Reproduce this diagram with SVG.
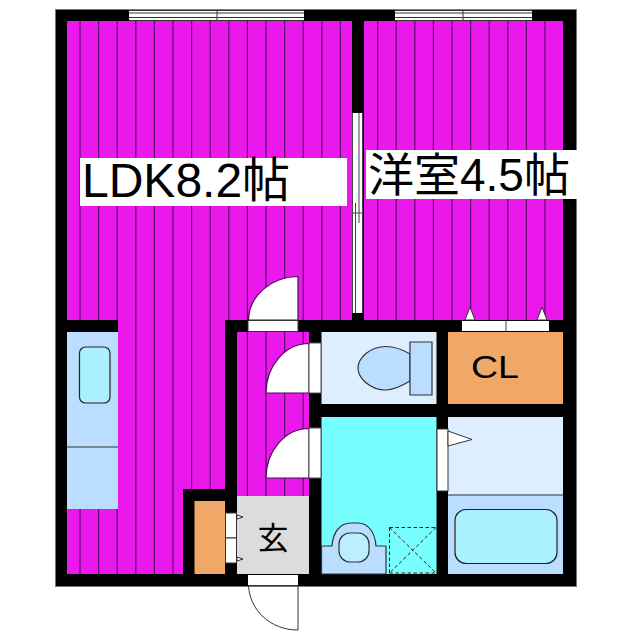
<svg xmlns="http://www.w3.org/2000/svg" width="640" height="640" viewBox="0 0 640 640">
<style>
.door{fill:#fff;stroke:#333;stroke-width:1}
.arc{fill:#fff;stroke:#4a0a5a;stroke-width:1.2}
.fix{stroke:#333;stroke-width:1.2;stroke-linejoin:round}
.t{font-family:"Liberation Sans","Noto Sans CJK JP",sans-serif;fill:#000}
.jp{font-family:"Noto Sans CJK JP",sans-serif;fill:#000}
</style>
<defs>
<clipPath id="floor"><path d="M67 21H352V320H225V489H183V574H67V509H118V320H67ZM364 21H563V320H364ZM237 332H309V496H237Z"/></clipPath>
</defs>
<rect width="640" height="640" fill="#fff"/>
<rect x="55.5" y="9.5" width="521" height="577" fill="#000" stroke="#777" stroke-width="1"/>
<path d="M67 21H352V320H225V489H183V574H67V509H118V320H67ZM364 21H563V320H364ZM237 332H309V496H237Z" fill="#ea18ea"/>
<g clip-path="url(#floor)" stroke="#5c0a70" stroke-width="1.2">
<path d="M80 21V574M98.6 21V574M117.2 21V574M135.8 21V574M154.4 21V574M173 21V574M191.6 21V574M210.2 21V574M228.8 21V574M247.4 21V574M266 21V574M284.6 21V574M303.2 21V574M321.8 21V574M340.4 21V574M377.6 21V574M396.2 21V574M414.8 21V574M433.4 21V574M452 21V574M470.6 21V574M489.2 21V574M507.8 21V574M526.4 21V574M545 21V574"/>
</g>
<g id="window-ldk">
<rect x="129" y="10" width="175" height="11" fill="#fff"/>
<path d="M129 10.5H304M129 13H304M129 17.5H304M129 20.5H304M217 10V21" fill="none" stroke="#333" stroke-width="1"/>
</g>
<g id="window-room">
<rect x="395" y="10" width="137" height="11" fill="#fff"/>
<path d="M395 10.5H532M395 13H532M395 17.5H532M395 20.5H532M463 10V21" fill="none" stroke="#333" stroke-width="1"/>
</g>
<g id="sliding-door">
<rect x="353" y="113" width="10" height="200" fill="#fff"/>
<path d="M352.500 113V313M362.500 113V313M359 113V223M355.500 203V313M352.500 213H362.500" fill="none" stroke="#444" stroke-width="1"/>
</g>
<g id="ldk-door">
<path class="arc" d="M248.500 320A50 44 0 0 1 298 276.500V320Z"/>
<rect class="door" x="248" y="320.500" width="50" height="11"/>
</g>
<g id="kitchen">
<rect x="67" y="332" width="51" height="177" fill="#bbddff"/>
<path d="M67 447H118" stroke="#333" stroke-width="1"/>
<rect x="79.500" y="347" width="30.500" height="56" rx="6" fill="#aaf0ff" stroke="#222" stroke-width="1.200"/>
</g>
<g id="toilet">
<rect x="321.500" y="332" width="115" height="72" fill="#ddeeff"/>
<path class="fix" d="M410 354C400 348 393 346.500 386 346.500C370 346.500 358 358 358 368C358 378 370 390 386 390C393 390 400 387 410 381Z" fill="#bbddff"/>
<rect class="fix" x="410" y="342" width="22" height="53" fill="#bbddff" stroke="#345"/>
</g>
<g id="closet">
<rect x="448" y="332" width="115" height="72" fill="#f0a868"/>
<text class="t" x="471" y="378" font-size="31" textLength="48" lengthAdjust="spacingAndGlyphs">CL</text>
</g>
<g id="closet-door">
<path class="door" d="M465 320L470 307L475 320ZM537 320L542 307L547 320Z"/>
<rect x="462" y="321" width="87" height="10" fill="#fff"/>
<path d="M506 321V331" stroke="#444" stroke-width="1"/>
</g>
<g id="washroom">
<rect x="321.500" y="417" width="115" height="157" fill="#77ffff"/>
<path class="fix" d="M321.500 546H332C333 532 340 523 351 523H358C368 523 375 532 376 546H386V574H321.500Z" fill="#bbddff"/>
<rect class="fix" x="339" y="533" width="30" height="29" rx="11" fill="#bbeeff"/>
<path d="M389.500 527.500H436M389.500 573H436M389.500 527.500V573M389.500 527.500L436 573M436 527.500L389.500 573" fill="none" stroke="#222" stroke-width="1" stroke-dasharray="3.500 2.500"/>
</g>
<g id="bathroom">
<rect x="448" y="417" width="115" height="78" fill="#ddeeff"/>
<rect x="448" y="495" width="115" height="79" fill="#bbddff"/>
<path d="M448 495H563" stroke="#333" stroke-width="1"/>
<rect x="455" y="509.500" width="102" height="54" rx="11" fill="#aaf0ff" stroke="#222" stroke-width="1.200"/>
</g>
<g id="bath-door">
<rect class="door" x="437" y="429" width="11" height="62"/>
<path class="door" d="M448 431L472 439.500L448 446Z"/>
</g>
<g id="hall-doors">
<path class="arc" d="M309 343.500A43 50 0 0 0 266 393H309Z"/>
<rect x="309" y="343" width="12" height="50" fill="#fff" stroke="#555" stroke-width="1"/>
<path class="arc" d="M309 428.500A43 50 0 0 0 266 478H309Z"/>
<rect x="309" y="428" width="12" height="50" fill="#fff" stroke="#555" stroke-width="1"/>
</g>
<g id="genkan">
<rect x="237" y="496" width="72" height="78" fill="#dcdcdc"/>
<text class="jp" x="273" y="549" font-size="31" text-anchor="middle">玄</text>
</g>
<g id="shoe-box">
<rect x="194.500" y="501" width="30.500" height="73" fill="#f0a868"/>
<rect class="door" x="225.500" y="513" width="11" height="25"/>
<rect class="door" x="225.500" y="538" width="11" height="25"/>
<path class="door" d="M237 515L243 517L237 519ZM237 557L243 559L237 561Z"/>
</g>
<g id="entrance-door">
<rect x="248" y="575" width="50" height="10" fill="#fff"/>
<path d="M248 585.500H298V630M248.500 586C250 610 270 630 298 630" fill="none" stroke="#333" stroke-width="1"/>
</g>
<g id="label-ldk">
<rect x="80" y="158" width="267" height="48" fill="#fff"/>
<text class="t" x="82" y="197" font-size="48">LDK8.2帖</text>
</g>
<g id="label-room">
<rect x="366" y="150" width="211" height="49" fill="#fff"/>
<text class="t" x="368" y="190.500" font-size="46">洋室4.5帖</text>
</g>
</svg>
